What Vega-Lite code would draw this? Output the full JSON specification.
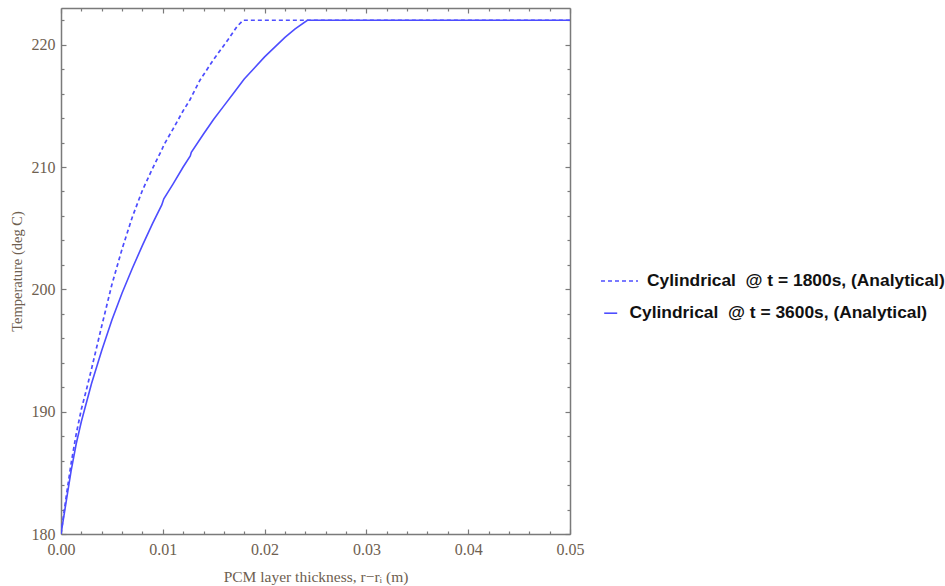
{
  "$schema": "https://vega.github.io/schema/vega-lite/v6.json",
  "width": 509,
  "height": 526,
  "autosize": {"type": "none"},
  "padding": {"left": 61, "top": 8, "right": 375, "bottom": 52},
  "background": "white",
  "config": {
    "view": {"stroke": null},
    "axis": {
      "domainColor": "#7a7a7a",
      "domainWidth": 1.5,
      "tickColor": "#7a7a7a",
      "tickWidth": 1.2,
      "grid": false,
      "labelFont": "Liberation Serif",
      "labelFontSize": 16,
      "labelColor": "#6e6050",
      "titleFont": "Liberation Serif",
      "titleFontWeight": "normal",
      "titleColor": "#6e6050"
    },
    "legend": {
      "labelFont": "Liberation Sans",
      "labelFontWeight": "bold",
      "labelFontSize": 17.4,
      "labelColor": "#111111",
      "labelLimit": 400,
      "symbolStrokeWidth": 1.6,
      "symbolType": "stroke"
    }
  },
  "datasets": {
    "curves": [
      {"series": "Cylindrical \u00a0@ t = 1800s, (Analytical)", "x": 0, "T": 180},
      {"series": "Cylindrical \u00a0@ t = 1800s, (Analytical)", "x": 0.0005, "T": 183.0},
      {"series": "Cylindrical \u00a0@ t = 1800s, (Analytical)", "x": 0.001, "T": 185.8},
      {"series": "Cylindrical \u00a0@ t = 1800s, (Analytical)", "x": 0.0015, "T": 188.2},
      {"series": "Cylindrical \u00a0@ t = 1800s, (Analytical)", "x": 0.002, "T": 190.2},
      {"series": "Cylindrical \u00a0@ t = 1800s, (Analytical)", "x": 0.0025, "T": 191.8},
      {"series": "Cylindrical \u00a0@ t = 1800s, (Analytical)", "x": 0.003, "T": 193.5},
      {"series": "Cylindrical \u00a0@ t = 1800s, (Analytical)", "x": 0.004, "T": 197.0},
      {"series": "Cylindrical \u00a0@ t = 1800s, (Analytical)", "x": 0.005, "T": 200.4},
      {"series": "Cylindrical \u00a0@ t = 1800s, (Analytical)", "x": 0.006, "T": 203.3},
      {"series": "Cylindrical \u00a0@ t = 1800s, (Analytical)", "x": 0.007, "T": 205.9},
      {"series": "Cylindrical \u00a0@ t = 1800s, (Analytical)", "x": 0.008, "T": 208.1},
      {"series": "Cylindrical \u00a0@ t = 1800s, (Analytical)", "x": 0.009, "T": 209.9},
      {"series": "Cylindrical \u00a0@ t = 1800s, (Analytical)", "x": 0.0099, "T": 211.4},
      {"series": "Cylindrical \u00a0@ t = 1800s, (Analytical)", "x": 0.0101, "T": 211.8},
      {"series": "Cylindrical \u00a0@ t = 1800s, (Analytical)", "x": 0.011, "T": 213.1},
      {"series": "Cylindrical \u00a0@ t = 1800s, (Analytical)", "x": 0.012, "T": 214.6},
      {"series": "Cylindrical \u00a0@ t = 1800s, (Analytical)", "x": 0.01267, "T": 215.5},
      {"series": "Cylindrical \u00a0@ t = 1800s, (Analytical)", "x": 0.01365, "T": 217.1},
      {"series": "Cylindrical \u00a0@ t = 1800s, (Analytical)", "x": 0.015, "T": 218.8},
      {"series": "Cylindrical \u00a0@ t = 1800s, (Analytical)", "x": 0.0164, "T": 220.4},
      {"series": "Cylindrical \u00a0@ t = 1800s, (Analytical)", "x": 0.0173, "T": 221.5},
      {"series": "Cylindrical \u00a0@ t = 1800s, (Analytical)", "x": 0.0179, "T": 222.0},
      {"series": "Cylindrical \u00a0@ t = 1800s, (Analytical)", "x": 0.05, "T": 222.0},
      {"series": "Cylindrical \u00a0@ t = 3600s, (Analytical)", "x": 0, "T": 180},
      {"series": "Cylindrical \u00a0@ t = 3600s, (Analytical)", "x": 0.0005, "T": 182.6},
      {"series": "Cylindrical \u00a0@ t = 3600s, (Analytical)", "x": 0.001, "T": 185.2},
      {"series": "Cylindrical \u00a0@ t = 3600s, (Analytical)", "x": 0.0015, "T": 187.4},
      {"series": "Cylindrical \u00a0@ t = 3600s, (Analytical)", "x": 0.002, "T": 189.2},
      {"series": "Cylindrical \u00a0@ t = 3600s, (Analytical)", "x": 0.003, "T": 192.3},
      {"series": "Cylindrical \u00a0@ t = 3600s, (Analytical)", "x": 0.004, "T": 195.0},
      {"series": "Cylindrical \u00a0@ t = 3600s, (Analytical)", "x": 0.005, "T": 197.5},
      {"series": "Cylindrical \u00a0@ t = 3600s, (Analytical)", "x": 0.006, "T": 199.7},
      {"series": "Cylindrical \u00a0@ t = 3600s, (Analytical)", "x": 0.007, "T": 201.7},
      {"series": "Cylindrical \u00a0@ t = 3600s, (Analytical)", "x": 0.008, "T": 203.6},
      {"series": "Cylindrical \u00a0@ t = 3600s, (Analytical)", "x": 0.009, "T": 205.4},
      {"series": "Cylindrical \u00a0@ t = 3600s, (Analytical)", "x": 0.0099, "T": 206.9},
      {"series": "Cylindrical \u00a0@ t = 3600s, (Analytical)", "x": 0.0101, "T": 207.4},
      {"series": "Cylindrical \u00a0@ t = 3600s, (Analytical)", "x": 0.011, "T": 208.6},
      {"series": "Cylindrical \u00a0@ t = 3600s, (Analytical)", "x": 0.012, "T": 210.0},
      {"series": "Cylindrical \u00a0@ t = 3600s, (Analytical)", "x": 0.0127, "T": 210.9},
      {"series": "Cylindrical \u00a0@ t = 3600s, (Analytical)", "x": 0.0128, "T": 211.2},
      {"series": "Cylindrical \u00a0@ t = 3600s, (Analytical)", "x": 0.014, "T": 212.7},
      {"series": "Cylindrical \u00a0@ t = 3600s, (Analytical)", "x": 0.015, "T": 213.9},
      {"series": "Cylindrical \u00a0@ t = 3600s, (Analytical)", "x": 0.016, "T": 215.0},
      {"series": "Cylindrical \u00a0@ t = 3600s, (Analytical)", "x": 0.017, "T": 216.1},
      {"series": "Cylindrical \u00a0@ t = 3600s, (Analytical)", "x": 0.018, "T": 217.2},
      {"series": "Cylindrical \u00a0@ t = 3600s, (Analytical)", "x": 0.019, "T": 218.1},
      {"series": "Cylindrical \u00a0@ t = 3600s, (Analytical)", "x": 0.02, "T": 219.0},
      {"series": "Cylindrical \u00a0@ t = 3600s, (Analytical)", "x": 0.021, "T": 219.8},
      {"series": "Cylindrical \u00a0@ t = 3600s, (Analytical)", "x": 0.022, "T": 220.6},
      {"series": "Cylindrical \u00a0@ t = 3600s, (Analytical)", "x": 0.023, "T": 221.3},
      {"series": "Cylindrical \u00a0@ t = 3600s, (Analytical)", "x": 0.0242, "T": 222.0},
      {"series": "Cylindrical \u00a0@ t = 3600s, (Analytical)", "x": 0.05, "T": 222.0}
    ]
  },
  "data": {"name": "curves"},
  "resolve": {"axis": {"x": "independent", "y": "independent"}},
  "layer": [
    {
      "transform": [{"filter": "indexof(datum.series, '1800s') >= 0"}],
      "mark": {"type": "line", "color": "#4d4dff", "strokeWidth": 1.7, "clip": true},
      "encoding": {
        "x": {"field": "x", "type": "quantitative",
              "scale": {"domain": [0, 0.05], "nice": false, "zero": false},
              "axis": {"orient": "bottom", "values": [0, 0.01, 0.02, 0.03, 0.04, 0.05], "format": ".2f",
                       "tickSize": -5, "labelPadding": 12, "labelFlush": false, "labelOverlap": false,
                       "title": "PCM layer thickness, r\u2212r\u1d62 (m)", "titleFontSize": 15.5, "titlePadding": 12}},
        "y": {"field": "T", "type": "quantitative",
              "scale": {"domain": [180, 223], "nice": false, "zero": false},
              "axis": {"orient": "left", "values": [180, 190, 200, 210, 220],
                       "tickSize": -5, "labelPadding": 11, "labelFlush": false, "labelOverlap": false,
                       "title": "Temperature (deg C)", "titleFontSize": 14.5, "titlePadding": 7}},
        "strokeDash": {"field": "series", "type": "nominal",
                       "scale": {"domain": ["Cylindrical \u00a0@ t = 1800s, (Analytical)"], "range": [[4, 3]]},
                       "legend": {"orient": "none", "legendX": 539, "legendY": 253.5, "title": null,
                                  "symbolStrokeColor": "#4d4dff", "symbolSize": 1370, "labelOffset": 8}}
      }
    },
    {
      "transform": [{"filter": "indexof(datum.series, '3600s') >= 0"}],
      "mark": {"type": "line", "strokeWidth": 1.6, "clip": true},
      "encoding": {
        "x": {"field": "x", "type": "quantitative", "axis": null},
        "y": {"field": "T", "type": "quantitative", "axis": null},
        "color": {"field": "series", "type": "nominal",
                  "scale": {"domain": ["Cylindrical \u00a0@ t = 3600s, (Analytical)"], "range": ["#4d4dff"]},
                  "legend": {"orient": "none", "legendX": 541, "legendY": 296.5, "title": null, "symbolSize": 169, "labelOffset": 10}}
      }
    },
    {
      "mark": {"type": "line", "opacity": 0},
      "encoding": {
        "x": {"field": "x", "type": "quantitative",
              "axis": {"orient": "bottom", "values": [0.002, 0.004, 0.006, 0.008, 0.012, 0.014, 0.016, 0.018, 0.022, 0.024, 0.026, 0.028, 0.032, 0.034, 0.036, 0.038, 0.042, 0.044, 0.046, 0.048],
                       "tickSize": -3, "labels": false, "title": null, "domain": false}},
        "y": {"field": "T", "type": "quantitative",
              "axis": {"orient": "left", "values": [182, 184, 186, 188, 192, 194, 196, 198, 202, 204, 206, 208, 212, 214, 216, 218, 222],
                       "tickSize": -3, "labels": false, "title": null, "domain": false}}
      }
    },
    {
      "mark": {"type": "line", "opacity": 0},
      "encoding": {
        "x": {"field": "x", "type": "quantitative",
              "axis": {"orient": "top", "values": [0, 0.01, 0.02, 0.03, 0.04, 0.05],
                       "tickSize": -5, "labels": false, "title": null}},
        "y": {"field": "T", "type": "quantitative",
              "axis": {"orient": "right", "values": [180, 190, 200, 210, 220],
                       "tickSize": -5, "labels": false, "title": null}}
      }
    },
    {
      "mark": {"type": "line", "opacity": 0},
      "encoding": {
        "x": {"field": "x", "type": "quantitative",
              "axis": {"orient": "top", "values": [0.002, 0.004, 0.006, 0.008, 0.012, 0.014, 0.016, 0.018, 0.022, 0.024, 0.026, 0.028, 0.032, 0.034, 0.036, 0.038, 0.042, 0.044, 0.046, 0.048],
                       "tickSize": -3, "labels": false, "title": null, "domain": false}},
        "y": {"field": "T", "type": "quantitative",
              "axis": {"orient": "right", "values": [182, 184, 186, 188, 192, 194, 196, 198, 202, 204, 206, 208, 212, 214, 216, 218, 222],
                       "tickSize": -3, "labels": false, "title": null, "domain": false}}
      }
    }
  ]
}
